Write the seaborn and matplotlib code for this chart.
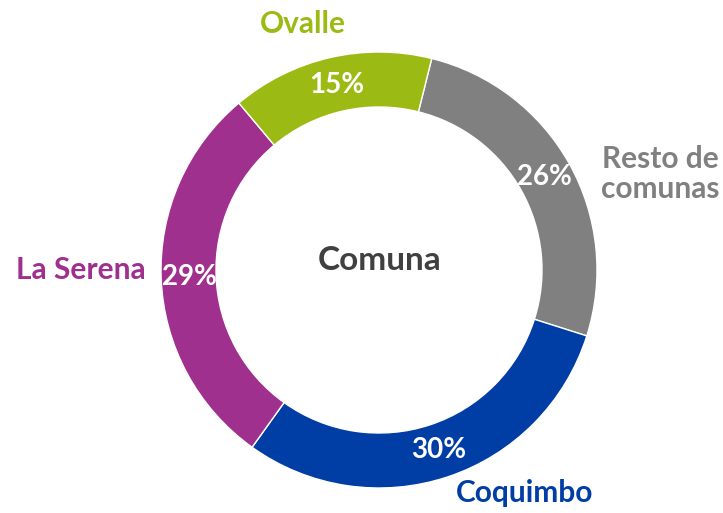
import matplotlib
matplotlib.use("Agg")
import matplotlib.pyplot as plt
import seaborn as sns

# data (clockwise from the top-right)
comunas = ["Resto de\ncomunas", "Coquimbo", "La Serena", "Ovalle"]
shares = [26, 30, 29, 15]
colors = ["#808080", "#003DA5", "#A0308E", "#9BBB14"]

sns.set_theme(style="white")
plt.rcParams["font.family"] = ["Lato", "DejaVu Sans"]

fig = plt.figure(figsize=(7.23, 5.13), dpi=100)
ax = fig.add_axes([0, 0, 1, 1])

wedges, texts, autotexts = ax.pie(
    shares,
    colors=colors,
    startangle=76,
    counterclock=False,
    center=(379, 243),
    radius=218,
    autopct="%d%%",
    pctdistance=0.87,
    wedgeprops=dict(width=55, edgecolor="white", linewidth=1),
    textprops=dict(color="white", fontsize=20, fontweight="bold"),
)
ax.set_xlim(0, 723)
ax.set_ylim(0, 513)
ax.set_aspect("equal")
ax.axis("off")

# outer category labels
label_pos = {
    "Resto de\ncomunas": (660, 339),
    "Coquimbo": (525, 20),
    "La Serena": (81, 243),
    "Ovalle": (303, 489),
}
for name, col in zip(comunas, colors):
    x, y = label_pos[name]
    ax.text(x, y, name, color=col, fontsize=21.5, fontweight="bold",
            ha="center", va="center", linespacing=1.1)

ax.text(380, 252, "Comuna", color="#404040", fontsize=24, fontweight="bold",
        ha="center", va="center")

fig.savefig("out.png", dpi=100)
